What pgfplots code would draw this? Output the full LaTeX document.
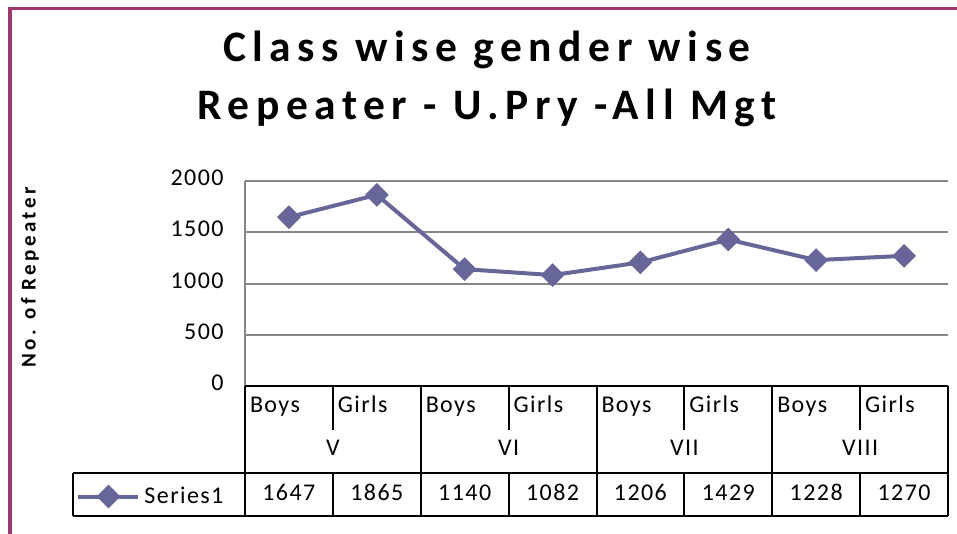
\documentclass[border=0pt]{standalone}
\usepackage{fontspec}
\setmainfont{Carlito}
\newfontfamily\regsp[LetterSpace=6]{Carlito}
\newfontfamily\titsp[LetterSpace=15]{Carlito}
\newfontfamily\labsp[LetterSpace=16]{Carlito}
\usepackage{pgfplots}
\pgfplotsset{compat=1.18}
\definecolor{framecol}{RGB}{158,56,108}
\definecolor{seriescol}{RGB}{102,102,153}
\definecolor{gridcol}{RGB}{134,134,134}
\begin{document}
\begin{tikzpicture}
\begin{scope}[x=0.5pt,y=-0.5pt]
\useasboundingbox (0,0) rectangle (957,534);
\draw[line width=1.6pt, framecol] (10,545) -- (10,8.5) -- (970,8.5);
\node[anchor=base, inner sep=0pt, font={\titsp\bfseries\fontsize{21.75}{26}\selectfont}] at (487,62) {Class wise gender wise};
\node[anchor=base, inner sep=0pt, font={\titsp\bfseries\fontsize{21.75}{26}\selectfont}] at (487,120) {Repeater - U.Pry -All Mgt};
\node[rotate=90, inner sep=0pt, font={\labsp\bfseries\fontsize{10.5}{12}\selectfont}] at (30,277.5) {No. of Repeater};
\end{scope}
\begin{axis}[
  at={(122.5pt,-193pt)}, anchor=south west,
  width=351.5pt, height=102.5pt, scale only axis,
  xmin=0, xmax=8, ymin=0, ymax=2000,
  ytick={0,500,1000,1500,2000}, xtick=\empty,
  axis x line=none, axis y line=left,
  y axis line style={gridcol, line width=1pt, -},
  ymajorgrids, grid style={gridcol, line width=1pt},
  major tick length=0pt,
  /pgf/number format/assume math mode=true,
  /pgf/number format/1000 sep={},
  yticklabel style={font={\regsp\fontsize{12}{14}\selectfont}, inner sep=0pt, xshift=-10.5pt, yshift=1.5pt},
  legend style={at={(-0.2404,-0.539)}, anchor=west, draw=none, fill=none, inner sep=0pt,
    font={\regsp\fontsize{12}{14}\selectfont}, nodes={inner sep=2pt}},
  legend image code/.code={\draw[mark repeat=2,mark phase=2] plot coordinates {(0pt,0pt)(15pt,0pt)(30pt,0pt)};},
  clip=false,
]
\addplot[seriescol, line width=2pt, mark=square*, mark size=3.2pt, mark options={rotate=45, solid}]
  coordinates {(0.5,1647) (1.5,1865) (2.5,1140) (3.5,1082) (4.5,1206) (5.5,1429) (6.5,1228) (7.5,1270)};
\addlegendentry{Series1}
\end{axis}
\begin{scope}[x=0.5pt,y=-0.5pt, line width=1pt]
\draw (245,386) -- (948,386);
\draw (73,473) -- (948,473);
\draw (73,516) -- (948,516);
\draw (73,473) -- (73,516);
\foreach \xx in {245,420.75,596.5,772.25,948} \draw (\xx,386) -- (\xx,516);
\foreach \xx in {332.875,508.625,684.375,860.125} {\draw (\xx,386) -- (\xx,430); \draw (\xx,473) -- (\xx,516);}
\foreach \xx/\g in {332.875/V,508.625/VI,684.375/VII,860.125/VIII}
  \node[anchor=base, inner sep=0pt, font={\regsp\fontsize{12}{14}\selectfont}] at (\xx,455) {\g};
\foreach \xx in {245,420.75,596.5,772.25}
  \node[anchor=base west, inner sep=0pt, font={\regsp\fontsize{12}{14}\selectfont}] at (\xx+4,412) {Boys};
\foreach \xx in {332.875,508.625,684.375,860.125}
  \node[anchor=base west, inner sep=0pt, font={\regsp\fontsize{12}{14}\selectfont}] at (\xx+4,412) {Girls};
\foreach \xx/\v in {288.9/1647,376.8/1865,464.7/1140,552.6/1082,640.4/1206,728.3/1429,816.2/1228,904.1/1270}
  \node[anchor=base, inner sep=0pt, font={\regsp\fontsize{12}{14}\selectfont}] at (\xx,500) {\v};
\end{scope}
\end{tikzpicture}
\end{document}
